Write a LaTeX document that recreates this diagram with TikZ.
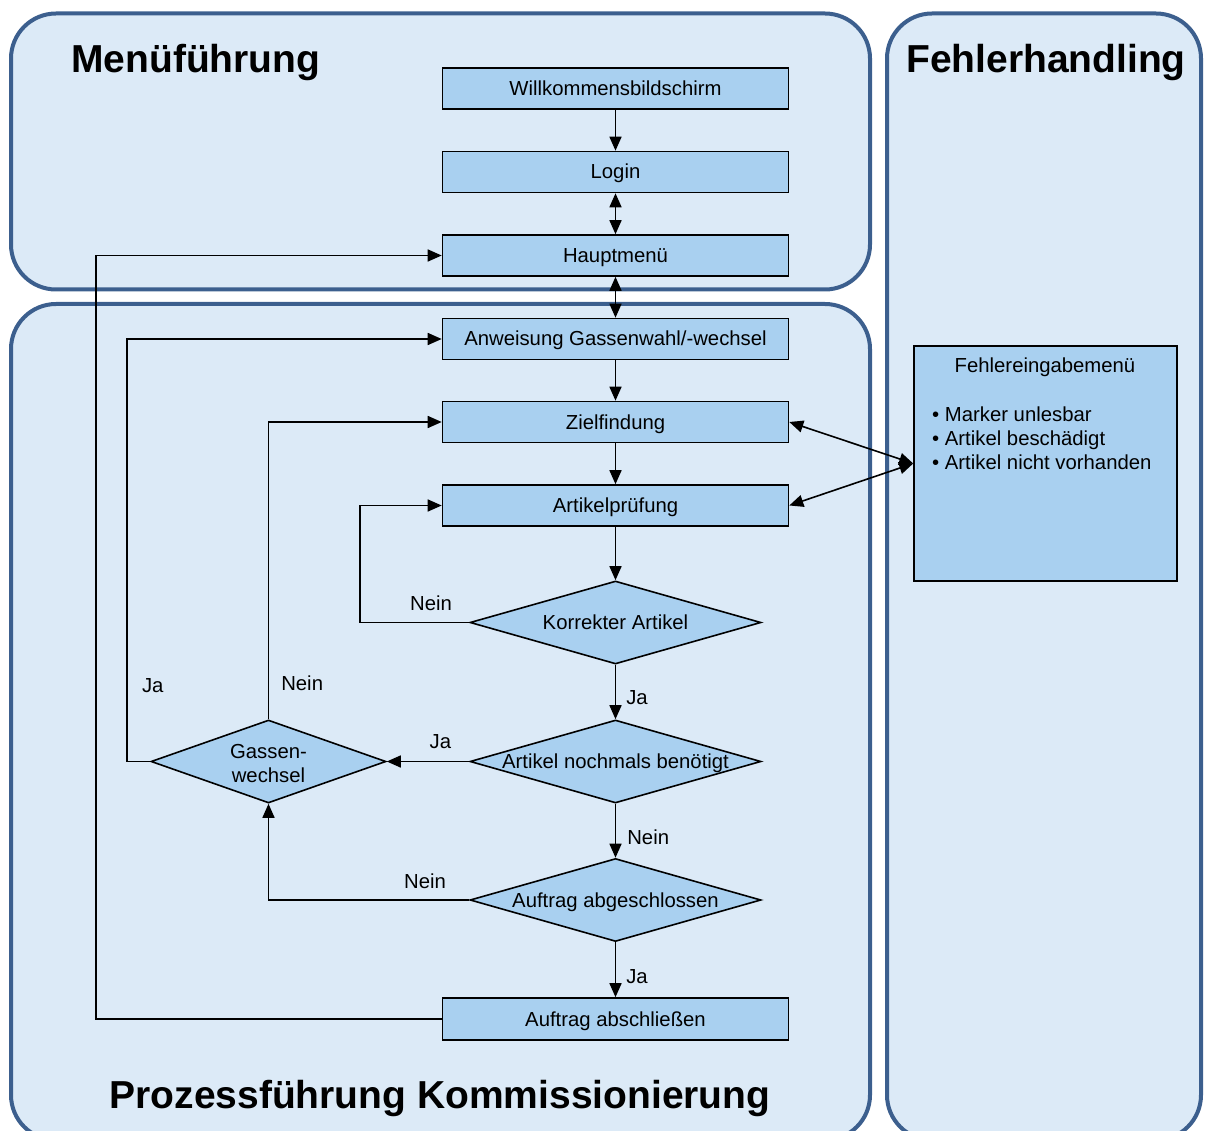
\documentclass[tikz,border=0pt]{standalone}
\usepackage{fontspec}
\setmainfont{Liberation Sans}
\usetikzlibrary{arrows.meta,shapes.geometric}
\definecolor{laneFill}{RGB}{220,234,247}
\definecolor{laneLine}{RGB}{60,95,142}
\definecolor{boxFill}{RGB}{169,208,240}
\newcommand{\ctrtext}[1]{\makebox[0pt]{#1}}

\begin{document}
\begin{tikzpicture}[x=1pt,y=-1pt,
  lane/.style={draw=laneLine, fill=laneFill, line width=4pt, rounded corners=45pt},
  lanetitle/.style={font=\fontsize{39}{44}\selectfont\bfseries, inner sep=0pt},
  txt/.style={font=\fontsize{20.3}{24}\selectfont},
  stepbox/.style={txt, draw=black, fill=boxFill, line width=1.6pt,
    minimum width=346pt, minimum height=41pt, inner sep=0pt,
    text height=14pt, text depth=0pt},
  decision/.style={txt, diamond, draw=black, fill=boxFill, line width=1.6pt,
    aspect=3.5, minimum width=291pt, minimum height=83pt, inner sep=0pt,
    text height=14pt, text depth=0pt},
  tip/.tip={Triangle[length=14pt,width=12pt]},
  conn/.style={line width=1.6pt, -tip},
  twoway/.style={line width=1.6pt, tip-tip},
  lbl/.style={txt, inner sep=2pt}
]
\useasboundingbox (0,0) rectangle (1205,1131);
\clip (0,0) rectangle (1205,1131);

% swimlanes
\draw[lane] (11,13.5) rectangle (870,289.5);
\draw[lane] (11,304) rectangle (870,1140);
\draw[lane] (887,13.5) rectangle (1201,1140);

\node[lanetitle, anchor=base west] (tmenu) at (71,73) {Menüführung};
\node[lanetitle, anchor=base] (terr) at (1046,73) {Fehlerhandling};
\node[lanetitle, anchor=base] (tproc) at (440,1108) {Prozessführung Kommissionierung};

% process steps
\node[stepbox] (wb)    at (615.5,88.5)  {Willkommensbildschirm};
\node[stepbox] (login) at (615.5,172)   {Login};
\node[stepbox] (haupt) at (615.5,255.5) {Hauptmenü};
\node[stepbox] (anw)   at (615.5,339)   {Anweisung Gassenwahl/-wechsel};
\node[stepbox] (ziel)  at (615.5,422)   {Zielfindung};
\node[stepbox] (artp)  at (615.5,505.5) {Artikelprüfung};
\node[stepbox, minimum height=42pt] (aus) at (615.5,1019) {Auftrag abschließen};

% decisions
\node[decision] (kor)  at (615.5,622.5) {\ctrtext{Korrekter Artikel}};
\node[decision] (noch) at (615.5,761.5) {\ctrtext{Artikel nochmals benötigt}};
\node[decision] (abg)  at (615.5,900)   {\ctrtext{Auftrag abgeschlossen}};
\node[decision, aspect=2.86, minimum width=235pt] (gw) at (268.5,761.5) {};
\node[txt, align=center, inner sep=0pt] (gwtext) at ([yshift=-2.5pt]gw.center)
  {Gassen-\\wechsel};

% error menu
\node[draw=black, fill=boxFill, line width=1.6pt, minimum width=263pt,
  minimum height=235pt, inner sep=0pt] (err) at (1045.5,463.5) {};
\node[txt, anchor=base, inner sep=0pt] (errtitle) at (1045,373) {Fehlereingabemenü};
\node[txt, anchor=base west, align=left, inner sep=0pt] (errlist) at (932,469)
  {• Marker unlesbar\\• Artikel beschädigt\\• Artikel nicht vorhanden};

% main flow
\draw[conn]   (wb.south)    -- (login.north);
\draw[twoway] (login.south) -- (haupt.north);
\draw[twoway] (haupt.south) -- (anw.north);
\draw[conn]   (anw.south)   -- (ziel.north);
\draw[conn]   (ziel.south)  -- (artp.north);
\draw[conn]   (artp.south)  -- (kor.north);
\draw[conn]   (kor.south)   -- node[lbl, pos=0.6, right=8pt] {Ja} (noch.north);
\draw[conn]   (noch.south)  -- node[lbl, pos=0.62, right=9pt] {Nein} (abg.north);
\draw[conn]   (abg.south)   -- node[lbl, pos=0.63, right=8pt] {Ja} (aus.north);

% loops back
\draw[conn] (kor.west) -- node[lbl, pos=0.35, above=9pt] {Nein} ++(-109,0) |- (artp.west);
\draw[conn] (noch.west) -- node[lbl, pos=0.35, above=10pt] {Ja} (gw.east);
\draw[conn] (gw.north) |- node[lbl, pos=0.06, right=10pt] {Nein} (ziel.west);
\draw[conn] (gw.west) -- ++(-23,0) |- node[lbl, pos=0.09, right=12pt] {Ja} (anw.west);
\draw[conn] (abg.west) -| node[lbl, pos=0.11, above=9pt] {Nein} (gw.south);
\draw[conn] (aus.west) -- ++(-346,0) |- (haupt.west);

% links to the error menu
\draw[twoway] (ziel.east) -- (err.west);
\draw[twoway] (artp.east) -- (err.west);
\end{tikzpicture}
\end{document}
